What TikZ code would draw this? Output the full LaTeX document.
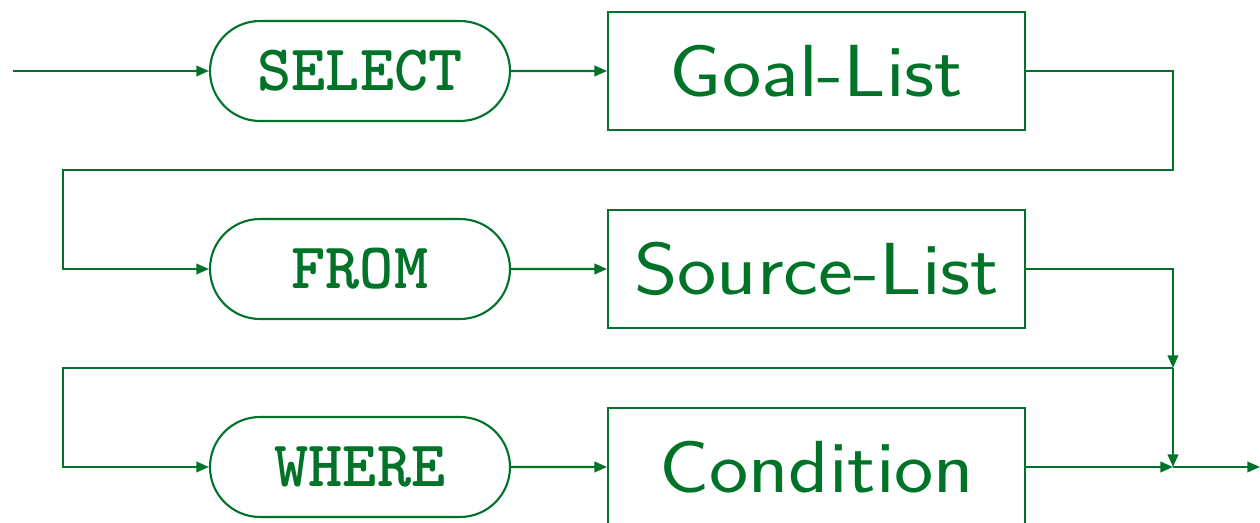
\documentclass[tikz,border=0pt]{standalone}
\usepackage{fontspec}
\newfontfamily\listfont[FakeStretch=1.13]{Latin Modern Sans}
\usetikzlibrary{arrows.meta,positioning,shapes.misc}
\definecolor{sqlgreen}{RGB}{0,115,40}

\begin{document}
\begin{tikzpicture}[sqlgreen,line width=0.6pt,node distance=0.96cm,
 kw/.style={rounded rectangle,draw,minimum width=3cm,minimum height=1cm,inner sep=0pt,font=\fontsize{18.5}{18.5}\selectfont\ttfamily\bfseries},
 nt/.style={rectangle,draw,minimum width=4.17cm,minimum height=1.18cm,inner sep=0pt,font=\fontsize{21}{21}\selectfont\listfont},
 flow/.style={-{Triangle[length=3.6pt,width=3pt]}}]
\useasboundingbox (0,0) rectangle (12.6,-5.23);

% Nodes
\node[kw] (select) at (3.6,-0.71) {SELECT};
\node[nt,right=of select] (goal) {Goal-List};
\node[kw] (from) at (3.6,-2.69) {FROM};
\node[nt,right=of from] (source) {Source-List};
\node[kw] (where) at (3.6,-4.67) {WHERE};
\node[nt,right=of where] (cond) {Condition};

\coordinate (start) at (0.13,-0.71);
\coordinate (r1) at (11.73,-1.70);
\coordinate (l1) at (0.63,-1.70);
\coordinate (r2) at (11.73,-3.68);
\coordinate (l2) at (0.63,-3.68);
\coordinate (join) at (r2 |- cond.east);
\coordinate (exit) at (12.6,-4.67);

%arcs
\path (start) edge[flow] (select);
\path (select) edge[flow] (goal);
\draw[flow] (goal.east) -| (r1) -- (l1) |- (from.west);
\path (from) edge[flow] (source);
\draw[flow] (source.east) -| (r2);
\draw[flow] (r2) -- (l2) |- (where.west);
\path (r2) edge[flow] (join);
\path (where) edge[flow] (cond);
\path (cond) edge[flow] (join);
\path (join) edge[flow] (exit);
\end{tikzpicture}
\end{document}
